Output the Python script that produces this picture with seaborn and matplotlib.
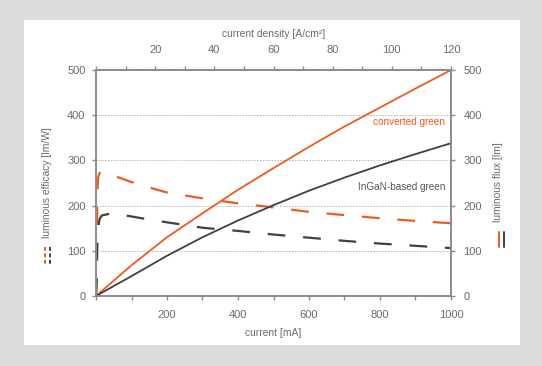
import matplotlib
matplotlib.use("Agg")
import matplotlib.pyplot as plt
from matplotlib.lines import Line2D
from matplotlib.patches import Rectangle
from matplotlib.ticker import MultipleLocator, FixedLocator
import numpy as np
import pandas as pd
import seaborn as sns

#%% Data
# luminous flux [lm] vs current [mA]
flux_current = [0, 100, 200, 300, 400, 500, 600, 700, 800, 900, 1000]
flux_converted = [0, 68, 130, 183, 235, 283, 330, 375, 417, 459, 500]
flux_ingan = [0, 44, 89, 130, 167, 201, 233, 262, 289, 314, 338]

# luminous efficacy [lm/W] vs current [mA]
eff_current = [0, 2, 3, 4, 6, 10, 16, 44, 100, 150, 200, 300, 400, 500, 600, 700, 800, 900, 1000]
eff_converted = [0, 60, 150, 230, 262, 272, 276, 268, 252, 240, 229, 216, 205, 196, 186, 179, 172, 166, 161]
eff_ingan = [0, 30, 80, 120, 150, 170, 178, 183, 176, 169, 163, 151, 144, 136, 129, 122, 116, 111, 106]

flux = pd.DataFrame({"current": flux_current, "converted": flux_converted, "ingan": flux_ingan})
eff = pd.DataFrame({"current": eff_current, "converted": eff_converted, "ingan": eff_ingan})

#%% Style
orange = "#ee5a1f"
dark = "#404040"
axis_grey = "#8c8c8c"
text_grey = "#6a6a6a"

sns.set_style("ticks")
plt.rcParams["font.family"] = ["Liberation Sans", "DejaVu Sans"]

W, H = 542, 366
fig = plt.figure(figsize=(W / 100, H / 100), dpi=100)
fig.patch.set_facecolor("#dcdddf")

# white panel
fig.add_artist(Rectangle((24 / W, 1 - 345 / H), (520 - 24) / W, (345 - 20) / H,
                         transform=fig.transFigure, facecolor="white", edgecolor="none", zorder=0))

ax = fig.add_axes([96 / W, 1 - 296 / H, 355 / W, 226 / H])
ax.set_facecolor("none")
ax2 = ax.twinx()

# efficacy (dashed, left axis)
dash = (0, (8, 8))
sns.lineplot(data=eff, x="current", y="converted", ax=ax, color=orange, lw=1.6,
             linestyle=dash, errorbar=None)
sns.lineplot(data=eff, x="current", y="ingan", ax=ax, color=dark, lw=1.6,
             linestyle=dash, errorbar=None)

# flux (solid, right axis)
sns.lineplot(data=flux, x="current", y="converted", ax=ax2, color=orange, lw=1.3, errorbar=None)
sns.lineplot(data=flux, x="current", y="ingan", ax=ax2, color=dark, lw=1.3, errorbar=None)

for a in (ax, ax2):
    a.set_xlim(0, 1000)
    a.set_ylim(0, 500)
    a.yaxis.set_major_locator(MultipleLocator(100))
    for s in a.spines.values():
        s.set_visible(True)
        s.set_color(axis_grey)
        s.set_linewidth(1.2)
    a.tick_params(which="both", direction="out", colors=axis_grey, labelcolor=text_grey,
                  labelsize=8, width=1, length=3)

ax.grid(axis="y", color="#b5b5b5", linestyle=(0, (1.5, 1.5)), linewidth=0.7)
ax.set_axisbelow(True)

ax.xaxis.set_major_locator(FixedLocator([200, 400, 600, 800, 1000]))
ax.xaxis.set_minor_locator(MultipleLocator(100))
ax.tick_params(axis="x", which="both", top=False, pad=7)
ax.tick_params(axis="y", pad=4.5)
ax2.tick_params(axis="y", pad=6)

ax.set_xlabel("current [mA]", fontsize=7.4, color=text_grey, labelpad=6)
ax.set_ylabel("luminous efficacy [lm/W]", fontsize=7.4, color=text_grey)
ax2.set_ylabel("luminous flux [lm]", fontsize=7.4, color=text_grey)
ax.yaxis.set_label_coords(-0.125, 0.5)
ax2.yaxis.set_label_coords(1.118, 0.505)

# top axis: current density
top = ax.secondary_xaxis("top", functions=(lambda x: x * 0.12, lambda x: x / 0.12))
top.xaxis.set_major_locator(FixedLocator([20, 40, 60, 80, 100, 120]))
top.xaxis.set_minor_locator(MultipleLocator(10))
top.tick_params(which="both", direction="out", colors=axis_grey, labelcolor=text_grey,
                labelsize=8, length=3, width=1, pad=7.5)
top.spines["top"].set_color(axis_grey)
top.spines["top"].set_linewidth(1.2)
top.set_xlabel("current density [A/cm²]", fontsize=7.4, color=text_grey, labelpad=6)

# curve labels
ax.text(983, 386, "converted green", color=orange, fontsize=7.2, ha="right", va="center")
ax.text(983, 242, "InGaN-based green", color="#555555", fontsize=7.2, ha="right", va="center")

# line keys next to the axis labels
def key(x, y0, y1, color, style):
    fig.add_artist(Line2D([x / W, x / W], [1 - y0 / H, 1 - y1 / H], transform=fig.transFigure,
                          color=color, lw=1.4, linestyle=style))

key(45, 247, 265, orange, (0, (2, 1.3)))
key(49.5, 247, 265, dark, (0, (2, 1.3)))
key(499, 232, 247, orange, "-")
key(503.5, 232, 247, dark, "-")

fig.savefig("out.png", dpi=100, facecolor=fig.get_facecolor())
